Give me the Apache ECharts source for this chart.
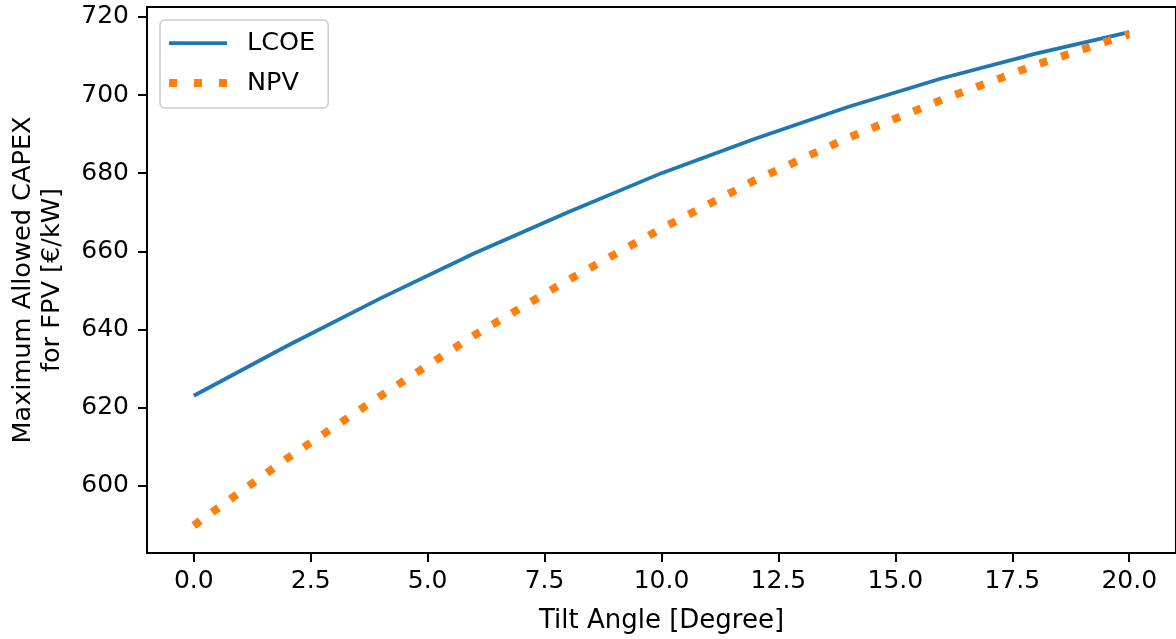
<!DOCTYPE html>
<html>
<head>
<meta charset="utf-8">
<script src="https://cdn.jsdelivr.net/npm/echarts@6/dist/echarts.min.js"></script>
<style>
html,body{margin:0;padding:0;background:#fff;}
#chart{width:1176px;height:639px;}
</style>
</head>
<body>
<div id="chart"></div>
<script>
// Data
const tilt = [0, 2, 4, 6, 8, 10, 12, 14, 16, 18, 20];
const lcoe = [623.0, 635.8, 648.0, 659.5, 670.0, 680.0, 688.8, 697.0, 704.3, 710.6, 716.1];
const npv  = [589.8, 607.0, 623.0, 638.5, 652.6, 665.8, 678.2, 689.1, 698.8, 707.7, 715.6];
const xTicks = [0, 2.5, 5, 7.5, 10, 12.5, 15, 17.5, 20];
const yTicks = [600, 620, 640, 660, 680, 700, 720];
const seriesNames = ['LCOE', 'NPV'];
const xName = 'Tilt Angle [Degree]';
const yName = 'Maximum Allowed CAPEX\nfor FPV [€/kW]';

const FONT = 'DejaVu Sans';
const chart = echarts.init(document.getElementById('chart'), null, {renderer: 'canvas'});
const pairs = (ys) => tilt.map((x, i) => [x, ys[i]]);

chart.setOption({
  animation: false,
  backgroundColor: '#ffffff',
  textStyle: {fontFamily: FONT},
  grid: {
    left: 147, top: 7, right: -6, bottom: 82,
    show: true, borderColor: '#000', borderWidth: 2, backgroundColor: 'transparent'
  },
  legend: {
    left: 160, top: 20, orient: 'vertical',
    data: [
      {name: seriesNames[0], icon: 'path://M0,0h58v3.75h-58z'},
      {name: seriesNames[1], icon: 'path://M0,0h8v8h-8z M25,0h8v8h-8z M50,0h8v8h-8z'}
    ],
    itemWidth: 58, itemHeight: 8, itemGap: 10, symbolKeepAspect: true,
    padding: [8, 13, 10, 9],
    backgroundColor: 'rgba(255,255,255,0.8)',
    borderColor: '#cccccc', borderWidth: 1.5, borderRadius: 5,
    textStyle: {fontFamily: FONT, fontSize: 25.5, color: '#000', lineHeight: 30, padding: [0, 0, 0, 15]}
  },
  xAxis: {
    type: 'value', min: -1, max: 21,
    name: xName, nameLocation: 'middle', nameGap: 55,
    nameTextStyle: {fontFamily: FONT, fontSize: 26, color: '#000'},
    axisLine: {show: true, onZero: false, lineStyle: {color: '#000', width: 2}},
    axisTick: {show: true, length: 9, lineStyle: {color: '#000', width: 2}, customValues: xTicks},
    axisLabel: {fontFamily: FONT, fontSize: 25, color: '#000', margin: 16,
      customValues: xTicks, formatter: (v) => Number(v).toFixed(1)},
    splitLine: {show: false}
  },
  yAxis: {
    type: 'value', min: 582.74, max: 722.54,
    name: yName, nameLocation: 'middle', nameGap: 80, nameRotate: 90,
    nameTextStyle: {fontFamily: FONT, fontSize: 25.6, color: '#000', lineHeight: 29, align: 'center'},
    axisLine: {show: true, onZero: false, lineStyle: {color: '#000', width: 2}},
    axisTick: {show: true, length: 9, lineStyle: {color: '#000', width: 2}, customValues: yTicks},
    axisLabel: {fontFamily: FONT, fontSize: 25, color: '#000', margin: 18,
      customValues: yTicks, formatter: (v) => String(Math.round(v))},
    splitLine: {show: false}
  },
  series: [
    {
      name: seriesNames[0], type: 'line', data: pairs(lcoe),
      symbol: 'none', smooth: false,
      itemStyle: {color: '#1f77b4'},
      lineStyle: {color: '#1f77b4', width: 3.75, cap: 'butt'},
      z: 2
    },
    {
      name: seriesNames[1], type: 'line', data: pairs(npv),
      symbol: 'none', smooth: false,
      itemStyle: {color: '#ff7f0e'},
      lineStyle: {color: '#ff7f0e', width: 8, type: [8, 14.5], cap: 'butt'},
      z: 3
    }
  ]
});
</script>
</body>
</html>
